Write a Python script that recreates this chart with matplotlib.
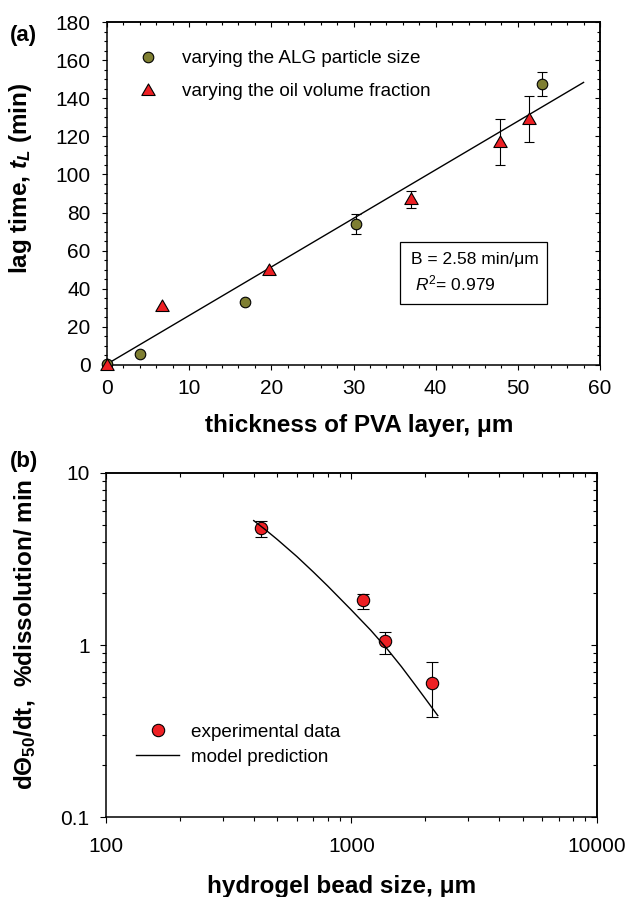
import numpy as np
import matplotlib
matplotlib.use("Agg")
import matplotlib.pyplot as plt
from matplotlib.ticker import MultipleLocator, LogLocator, NullFormatter, FixedLocator, FuncFormatter
from matplotlib.lines import Line2D
from matplotlib.patches import Rectangle
from matplotlib.path import Path

plt.rcParams['font.family'] = ['Liberation Sans', 'DejaVu Sans']
plt.rcParams['mathtext.fontset'] = 'custom'
plt.rcParams['mathtext.rm'] = 'Liberation Sans'
plt.rcParams['mathtext.it'] = 'Liberation Sans:italic'
plt.rcParams['mathtext.bf'] = 'Liberation Sans:bold'
plt.rcParams['mathtext.bfit'] = 'Liberation Sans:bold:italic'

# ---------------- data: panel (a) ----------------
alg_thickness = [0.0, 4.0, 16.8, 30.3, 53.0]
alg_lag = [0.5, 6.0, 33.0, 74.0, 147.5]
alg_err = [0.0, 0.0, 0.0, 5.0, 6.5]

oil_thickness = [0.0, 6.7, 19.7, 37.0, 47.8, 51.3]
oil_lag = [0.0, 31.0, 49.8, 87.0, 117.0, 129.0]
oil_err = [0.0, 0.0, 0.0, 4.5, 12.0, 12.0]

fit_x = [0.0, 58.0]
fit_y = [0.5, 148.3]

# ---------------- data: panel (b) ----------------
bead_size = [430, 1120, 1370, 2130]
rate = [4.8, 1.82, 1.06, 0.60]
rate_low = [4.27, 1.62, 0.89, 0.38]
rate_high = [5.28, 1.99, 1.20, 0.80]

model_size = [400, 450, 500, 600, 700, 800, 1000, 1200, 1400, 1600, 1800, 2000, 2250]
model_rate = [5.29, 4.64, 4.10, 3.27, 2.66, 2.21, 1.60, 1.22, 0.95, 0.75, 0.60, 0.49, 0.39]

OLIVE = '#7f7f32'
RED = '#ee2024'

tri = Path([(-1, -0.75), (1, -0.75), (0, 0.98), (-1, -0.75)],
           [Path.MOVETO, Path.LINETO, Path.LINETO, Path.CLOSEPOLY])

W, H = 630, 897
fig = plt.figure(figsize=(W / 100, H / 100), dpi=100)

TICK_FS = 15
LEG_FS = 13.6
LABEL_FS = 17.5

# ---------------- panel (a) ----------------
ax1 = fig.add_axes([107 / W, 1 - 365 / H, (600 - 107) / W, 343 / H])

ax1.plot(fit_x, fit_y, color='black', lw=1.0, zorder=2)

a_x = np.array(alg_thickness); a_y = np.array(alg_lag); a_e = np.array(alg_err)
o_x = np.array(oil_thickness); o_y = np.array(oil_lag); o_e = np.array(oil_err)
m = a_e > 0
ax1.errorbar(a_x[m], a_y[m], yerr=a_e[m], fmt='none', ecolor='black',
             elinewidth=0.8, capsize=3.9, capthick=0.8, zorder=3)
m = o_e > 0
ax1.errorbar(o_x[m], o_y[m], yerr=o_e[m], fmt='none', ecolor='black',
             elinewidth=0.8, capsize=3.9, capthick=0.8, zorder=3)
ax1.plot(a_x, a_y, 'o', ms=7.6, mfc=OLIVE, mec='black', mew=0.8, zorder=4,
         clip_on=False)
ax1.plot(o_x, o_y, ls='none', marker=tri, ms=9.6, mfc=RED, mec='black',
         mew=0.8, zorder=4, clip_on=False)

ax1.set_xlim(0, 60)
ax1.set_ylim(0, 180)
ax1.xaxis.set_major_locator(MultipleLocator(10))
ax1.xaxis.set_minor_locator(MultipleLocator(2))
ax1.yaxis.set_major_locator(MultipleLocator(20))
ax1.yaxis.set_minor_locator(MultipleLocator(5))
ax1.tick_params(which='both', direction='out', top=False, right=False,
                width=0.8, labelsize=TICK_FS)
ax1.tick_params(which='major', length=3.4)
ax1.tick_params(which='minor', length=2.0)
ax1.tick_params(axis='y', pad=8.5)
ax1.tick_params(axis='x', pad=6.5)

secx = ax1.secondary_xaxis('top')
secx.xaxis.set_major_locator(MultipleLocator(10))
secx.xaxis.set_minor_locator(MultipleLocator(2))
secx.tick_params(which='both', direction='in', labeltop=False, width=0.8)
secx.tick_params(which='major', length=3.4)
secx.tick_params(which='minor', length=2.0)
secy = ax1.secondary_yaxis('right')
secy.yaxis.set_major_locator(MultipleLocator(20))
secy.yaxis.set_minor_locator(MultipleLocator(5))
secy.tick_params(which='both', direction='in', labelright=False, width=0.8)
secy.tick_params(which='major', length=3.4)
secy.tick_params(which='minor', length=2.0)

for s in list(ax1.spines.values()) + list(secx.spines.values()) + list(secy.spines.values()):
    s.set_linewidth(1.1)

ax1.set_xlabel('thickness of PVA layer, μm', fontsize=LABEL_FS, fontweight='bold')
ax1.xaxis.set_label_coords(0.511, -0.143)
ax1.set_ylabel(r'lag time, $\mathbfit{t}_{\mathbfit{L}}$ (min)', fontsize=LABEL_FS,
               fontweight='bold')
ax1.yaxis.set_label_coords(-0.148, 0.545)

handles_a = [
    Line2D([], [], ls='none', marker='o', ms=7.6, mfc=OLIVE, mec='black', mew=0.8),
    Line2D([], [], ls='none', marker=tri, ms=9.6, mfc=RED, mec='black', mew=0.8),
]
ax1.legend(handles_a, ['varying the ALG particle size', 'varying the oil volume fraction'],
           loc='upper left', bbox_to_anchor=(0.064, 0.918), frameon=False,
           fontsize=LEG_FS, borderpad=0, borderaxespad=0, handlelength=1.0,
           handletextpad=1.31, labelspacing=0.83)

ax1.add_patch(Rectangle((0.594, 0.177), 0.2985, 0.1825, transform=ax1.transAxes,
                        fill=False, edgecolor='black', lw=0.9, zorder=5))
ax1.text(0.6166, 0.309, 'B = 2.58 min/μm', transform=ax1.transAxes,
         fontsize=12.5, va='center', ha='left', zorder=6)
ax1.text(0.6247, 0.239, r'$\mathit{R}^{2}$= 0.979', transform=ax1.transAxes,
         fontsize=12.5, va='center', ha='left', zorder=6)

fig.text(10 / W, 1 - 35 / H, '(a)', fontsize=16, fontweight='bold', va='center', ha='left')

# ---------------- panel (b) ----------------
ax2 = fig.add_axes([106 / W, 1 - 817.3 / H, (596.7 - 106) / W, 344.3 / H])
ax2.set_xscale('log')
ax2.set_yscale('log')

r = np.array(rate)
yerr = np.vstack([r - np.array(rate_low), np.array(rate_high) - r])
ax2.errorbar(bead_size, rate, yerr=yerr, fmt='none', ecolor='black',
             elinewidth=0.8, capsize=4.2, capthick=0.8, zorder=3)
ax2.plot(bead_size, rate, 'o', ms=8.9, mfc=RED, mec='black', mew=0.8, zorder=4)
ax2.plot(model_size, model_rate, color='black', lw=1.0, zorder=5)

ax2.set_xlim(100, 10000)
ax2.set_ylim(0.1, 10)
ax2.xaxis.set_major_locator(LogLocator(base=10, numticks=10))
ax2.xaxis.set_minor_locator(LogLocator(base=10, subs=np.arange(2, 10), numticks=20))
ax2.xaxis.set_minor_formatter(NullFormatter())
ax2.yaxis.set_major_locator(FixedLocator([0.1, 1, 10]))
ax2.yaxis.set_minor_locator(LogLocator(base=10, subs=np.arange(2, 10), numticks=20))
ax2.yaxis.set_minor_formatter(NullFormatter())
ax2.xaxis.set_major_formatter(FuncFormatter(lambda v, p: f'{v:g}'))
ax2.yaxis.set_major_formatter(FuncFormatter(lambda v, p: f'{v:g}'))
ax2.tick_params(which='both', direction='out', top=False, right=False,
                width=0.8, labelsize=TICK_FS)
ax2.tick_params(which='major', length=4.3)
ax2.tick_params(which='minor', length=2.8)
ax2.tick_params(axis='y', pad=7.5)
ax2.tick_params(axis='x', pad=10)

secx2 = ax2.secondary_xaxis('top')
secx2.xaxis.set_major_locator(LogLocator(base=10, numticks=10))
secx2.xaxis.set_minor_locator(LogLocator(base=10, subs=np.arange(2, 10), numticks=20))
secx2.tick_params(which='both', direction='in', labeltop=False, width=0.8)
secx2.tick_params(which='major', length=4.3)
secx2.tick_params(which='minor', length=2.8)
secy2 = ax2.secondary_yaxis('right')
secy2.yaxis.set_major_locator(FixedLocator([0.1, 1, 10]))
secy2.yaxis.set_minor_locator(LogLocator(base=10, subs=np.arange(2, 10), numticks=20))
secy2.tick_params(which='both', direction='in', labelright=False, width=0.8)
secy2.tick_params(which='major', length=4.3)
secy2.tick_params(which='minor', length=2.8)
for s in list(ax2.spines.values()) + list(secx2.spines.values()) + list(secy2.spines.values()):
    s.set_linewidth(1.1)

ax2.set_xlabel('hydrogel bead size, μm', fontsize=LABEL_FS, fontweight='bold')
ax2.xaxis.set_label_coords(0.48, -0.168)
ax2.set_ylabel(r'dΘ$_{\mathbf{50}}$/dt,  %dissolution/ min', fontsize=LABEL_FS,
               fontweight='bold')
ax2.yaxis.set_label_coords(-0.139, 0.53)

handles_b = [
    Line2D([], [], ls='none', marker='o', ms=8.9, mfc=RED, mec='black', mew=0.8),
    Line2D([], [], color='black', lw=1.0),
]
ax2.legend(handles_b, ['experimental data', 'model prediction'],
           loc='upper left', bbox_to_anchor=(0.061, 0.2715), frameon=False,
           fontsize=LEG_FS, borderpad=0, borderaxespad=0, handlelength=2.3,
           handletextpad=0.59, labelspacing=0.40)

fig.text(10 / W, 1 - 461 / H, '(b)', fontsize=16, fontweight='bold', va='center', ha='left')

fig.savefig('out.png', dpi=100)
